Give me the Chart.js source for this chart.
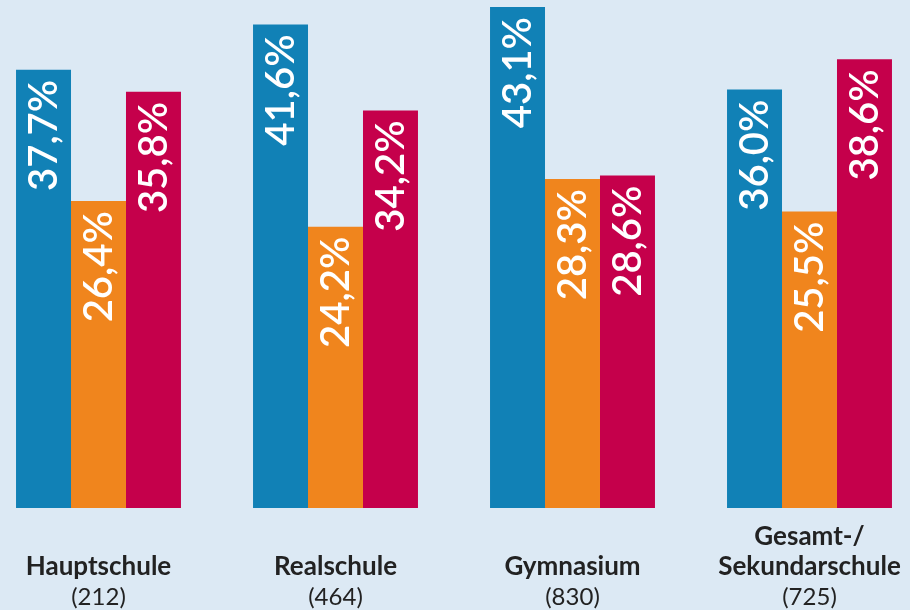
<!DOCTYPE html>
<html lang="de">
<head>
<meta charset="utf-8">
<title>Schulformen</title>
<script src="https://cdn.jsdelivr.net/npm/chart.js@4.4.1/dist/chart.umd.min.js"></script>
<style>
  html, body { margin: 0; padding: 0; background: #dce9f4; overflow: hidden; }
  #wrap { position: absolute; left: -20px; top: 0; width: 948px; height: 610px; }
</style>
</head>
<body>
<div id="wrap"><canvas id="schulChart"></canvas></div>
<script>
// Schulformen und Fallzahlen
const schulformen = [['Hauptschule'], ['Realschule'], ['Gymnasium'], ['Gesamt-/', 'Sekundarschule']];
const fallzahlen = ['(212)', '(464)', '(830)', '(725)'];

// Anteile in Prozent je Schulform
const werteBlau = [37.7, 41.6, 43.1, 36.0];
const werteOrange = [26.4, 24.2, 28.3, 25.5];
const werteRot = [35.8, 34.2, 28.6, 38.6];

const farben = ['#1181b6', '#f0851d', '#c5004b'];

function fmt(v) {
    return v.toFixed(1).replace('.', ',') + '%';
}

// Prozentwerte senkrecht in die Balken schreiben
const balkenText = {
    id: 'balkenText',
    afterDatasetsDraw(chart) {
        const ctx = chart.ctx;
        ctx.save();
        ctx.fillStyle = '#ffffff';
        ctx.font = '600 40px Lato, sans-serif';
        ctx.textAlign = 'right';
        ctx.textBaseline = 'middle';
        chart.data.datasets.forEach((ds, i) => {
            chart.getDatasetMeta(i).data.forEach((bar, j) => {
                ctx.save();
                ctx.translate(bar.x + 1, bar.y + 10);
                ctx.rotate(-Math.PI / 2);
                ctx.fillText(fmt(ds.data[j]), 0, 0);
                ctx.restore();
            });
        });
        ctx.restore();
    }
};

// Beschriftung unter den Gruppen: Name fett, Fallzahl normal
const achsenText = {
    id: 'achsenText',
    afterDraw(chart) {
        const ctx = chart.ctx;
        const x = chart.scales.x;
        ctx.save();
        ctx.fillStyle = '#222222';
        ctx.textAlign = 'center';
        ctx.textBaseline = 'middle';
        schulformen.forEach((zeilen, i) => {
            const cx = x.getPixelForValue(i);
            let y = 597;
            ctx.font = '24px Lato, sans-serif';
            ctx.fillText(fallzahlen[i], cx, y);
            ctx.font = 'bold 26px Lato, sans-serif';
            for (let k = zeilen.length - 1; k >= 0; k--) {
                y -= 30;
                ctx.fillText(zeilen[k], cx, y);
            }
        });
        ctx.restore();
    }
};

function zeichnen() {
    new Chart(document.getElementById('schulChart'), {
        type: 'bar',
        data: {
            labels: schulformen.map(z => z.join(' ')),
            datasets: [
                { data: werteBlau, backgroundColor: farben[0] },
                { data: werteOrange, backgroundColor: farben[1] },
                { data: werteRot, backgroundColor: farben[2] }
            ]
        },
        options: {
            responsive: true,
            maintainAspectRatio: false,
            animation: false,
            layout: { padding: { top: 0, bottom: 102, left: 0, right: 0 } },
            datasets: {
                bar: { barPercentage: 1, categoryPercentage: 0.696, borderWidth: 0 }
            },
            scales: {
                x: { display: false },
                y: { display: false, min: 0, max: 43.7 }
            },
            plugins: {
                legend: { display: false },
                tooltip: { enabled: false }
            }
        },
        plugins: [balkenText, achsenText]
    });
}

if (document.fonts && document.fonts.load) {
    Promise.all([
        document.fonts.load('600 40px Lato'),
        document.fonts.load('bold 26px Lato'),
        document.fonts.load('24px Lato')
    ]).then(zeichnen, zeichnen);
} else {
    zeichnen();
}
</script>
</body>
</html>
